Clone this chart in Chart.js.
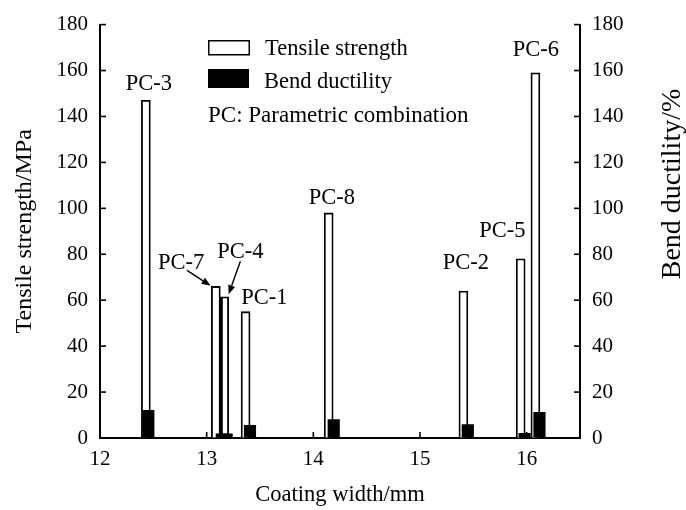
<!DOCTYPE html>
<html>
<head>
<meta charset="utf-8">
<script src="https://cdn.jsdelivr.net/npm/chart.js@4.4.1/dist/chart.umd.min.js"></script>
<style>
  html, body { margin: 0; padding: 0; background: #ffffff; }
  #wrap { width: 686px; height: 510px; }
</style>
</head>
<body>
<div id="wrap"><canvas id="c" width="686" height="510"></canvas></div>
<script>
// ---- data ----
const combos          = ['PC-3', 'PC-7', 'PC-4', 'PC-1', 'PC-8', 'PC-2', 'PC-5', 'PC-6'];
const tensileWidth    = [12.43, 13.086, 13.164, 13.365, 14.144, 15.407, 15.944, 16.082]; // mm
const tensileStrength = [147, 66, 61.5, 55, 98, 64, 78, 159];                            // MPa
const ductilityWidth  = [12.453, 13.142, 13.187, 13.406, 14.191, 15.448, 15.981, 16.12];  // mm
const bendDuctility   = [12, 1.8, 1.8, 5.5, 8, 5.8, 2, 11.2];                             // %
const xTickValues     = [12, 13, 14, 15, 16];
const yTickValues     = [0, 20, 40, 60, 80, 100, 120, 140, 160, 180];

// label anchors (data coordinates) for the PC annotations
const labelAnchors = [
  { text: 'PC-3', x: 12.458, y: 151.6 },
  { text: 'PC-7', x: 12.761, y: 73.4 },
  { text: 'PC-4', x: 13.316, y: 78.5 },
  { text: 'PC-1', x: 13.540, y: 58.3 },
  { text: 'PC-8', x: 14.174, y: 102 },
  { text: 'PC-2', x: 15.430, y: 73.4 },
  { text: 'PC-5', x: 15.773, y: 87.6 },
  { text: 'PC-6', x: 16.087, y: 166.2 }
];
const arrowAnchors = [
  { x1: 12.816, y1: 73.0, x2: 13.037, y2: 66.3 },
  { x1: 13.316, y1: 77.0, x2: 13.206, y2: 62.6 }
];

const SERIF = '"Liberation Serif", "Times New Roman", serif';

const tensilePoints = tensileWidth.map((w, i) => ({ x: w, y: tensileStrength[i] }));
const ductilityPoints = ductilityWidth.map((w, i) => ({ x: w, y: bendDuctility[i] }));

function drawArrow(ctx, x1, y1, x2, y2) {
  const ang = Math.atan2(y2 - y1, x2 - x1);
  const h = 9, w = 3.6;
  const bx = x2 - h * Math.cos(ang), by = y2 - h * Math.sin(ang);
  ctx.beginPath();
  ctx.moveTo(x1, y1);
  ctx.lineTo(bx, by);
  ctx.stroke();
  ctx.beginPath();
  ctx.moveTo(x2, y2);
  ctx.lineTo(bx + w * Math.sin(ang), by - w * Math.cos(ang));
  ctx.lineTo(bx - w * Math.sin(ang), by + w * Math.cos(ang));
  ctx.closePath();
  ctx.fill();
}

const overlay = {
  id: 'overlay',
  afterDraw(chart) {
    const { ctx, chartArea: a } = chart;
    const xs = chart.scales.x, ys = chart.scales.y, ys2 = chart.scales.y2;
    ctx.save();
    ctx.strokeStyle = '#000';
    ctx.fillStyle = '#000';
    ctx.lineWidth = 1.6;
    // inward tick marks
    const tl = 6;
    ys.ticks.forEach(t => {
      const py = ys.getPixelForValue(t.value);
      ctx.beginPath(); ctx.moveTo(a.left, py); ctx.lineTo(a.left + tl, py); ctx.stroke();
    });
    ys2.ticks.forEach(t => {
      const py = ys2.getPixelForValue(t.value);
      ctx.beginPath(); ctx.moveTo(a.right, py); ctx.lineTo(a.right - tl, py); ctx.stroke();
    });
    xs.ticks.forEach(t => {
      const px = xs.getPixelForValue(t.value);
      ctx.beginPath(); ctx.moveTo(px, a.bottom); ctx.lineTo(px, a.bottom - tl); ctx.stroke();
    });

    // legend
    const ds = chart.data.datasets;
    ctx.font = '22.5px ' + SERIF;
    ctx.textAlign = 'left';
    ctx.textBaseline = 'alphabetic';
    ctx.lineWidth = 1.5;
    ctx.strokeRect(208.75, 40.75, 40.5, 14);
    ctx.fillText(ds[0].label, 265, 54.5);
    ctx.fillRect(208, 69, 41, 19);
    ctx.fillText(ds[1].label, 264, 88);
    ctx.font = '23px ' + SERIF;
    ctx.fillText('PC: Parametric combination', 208, 121.5);

    // PC labels
    ctx.font = '22.5px ' + SERIF;
    ctx.textAlign = 'center';
    labelAnchors.forEach(l => {
      ctx.fillText(l.text, xs.getPixelForValue(l.x), ys.getPixelForValue(l.y));
    });
    ctx.lineWidth = 1.4;
    arrowAnchors.forEach(r => {
      drawArrow(ctx, xs.getPixelForValue(r.x1), ys.getPixelForValue(r.y1),
                     xs.getPixelForValue(r.x2), ys.getPixelForValue(r.y2));
    });

    // right axis title (reads bottom-to-top)
    ctx.save();
    ctx.translate(673, 184);
    ctx.rotate(-Math.PI / 2);
    ctx.font = '28px ' + SERIF;
    ctx.textAlign = 'center';
    ctx.textBaseline = 'middle';
    ctx.fillText('Bend ductility/%', 0, 0);
    ctx.restore();

    ctx.restore();
  }
};

new Chart(document.getElementById('c'), {
  type: 'bar',
  data: {
    datasets: [
      {
        label: 'Tensile strength',
        data: tensilePoints,
        yAxisID: 'y',
        backgroundColor: '#ffffff',
        borderColor: '#000000',
        borderWidth: ctx => ctx.dataIndex === 2 ? { left: 3.5, right: 1.8, top: 1.8, bottom: 0 } : 1.8,
        barThickness: 9,
        grouped: false,
        order: 2
      },
      {
        label: 'Bend ductility',
        data: ductilityPoints,
        yAxisID: 'y2',
        backgroundColor: '#000000',
        borderWidth: 0,
        barThickness: 11.5,
        grouped: false,
        order: 1
      }
    ]
  },
  options: {
    responsive: false,
    animation: false,
    events: [],
    layout: { padding: { top: 21, left: 0, right: 0, bottom: 0 } },
    plugins: {
      legend: { display: false },
      tooltip: { enabled: false }
    },
    scales: {
      x: {
        type: 'linear',
        position: 'bottom',
        offset: false,
        min: 12,
        max: 16.5,
        afterBuildTicks: s => { s.ticks = xTickValues.map(v => ({ value: v })); },
        afterFit: s => { s.height = 72; },
        grid: { display: true, drawOnChartArea: false, drawTicks: false, offset: false },
        border: { display: true, color: '#000', width: 2 },
        ticks: { color: '#000', font: { family: SERIF, size: 21 }, padding: 9, maxRotation: 0 },
        title: {
          display: true,
          text: 'Coating width/mm',
          color: '#000',
          font: { family: SERIF, size: 22.5 },
          padding: { top: 0, bottom: 1 }
        }
      },
      y: {
        type: 'linear',
        position: 'left',
        min: 0,
        max: 180,
        afterBuildTicks: s => { s.ticks = yTickValues.map(v => ({ value: v })); },
        afterFit: s => { s.width = 100; },
        grid: { display: true, drawOnChartArea: false, drawTicks: false },
        border: { display: true, color: '#000', width: 2 },
        ticks: { color: '#000', font: { family: SERIF, size: 21 }, padding: 12 },
        title: {
          display: true,
          text: 'Tensile strength/MPa',
          color: '#000',
          font: { family: SERIF, size: 24 },
          padding: { top: 10, bottom: 0 }
        }
      },
      y2: {
        type: 'linear',
        position: 'right',
        min: 0,
        max: 180,
        afterBuildTicks: s => { s.ticks = yTickValues.map(v => ({ value: v })); },
        afterFit: s => { s.width = 106; },
        grid: { display: true, drawOnChartArea: false, drawTicks: false },
        border: { display: true, color: '#000', width: 2 },
        ticks: { color: '#000', font: { family: SERIF, size: 21 }, padding: 12 }
      }
    }
  },
  plugins: [overlay]
});
</script>
</body>
</html>
